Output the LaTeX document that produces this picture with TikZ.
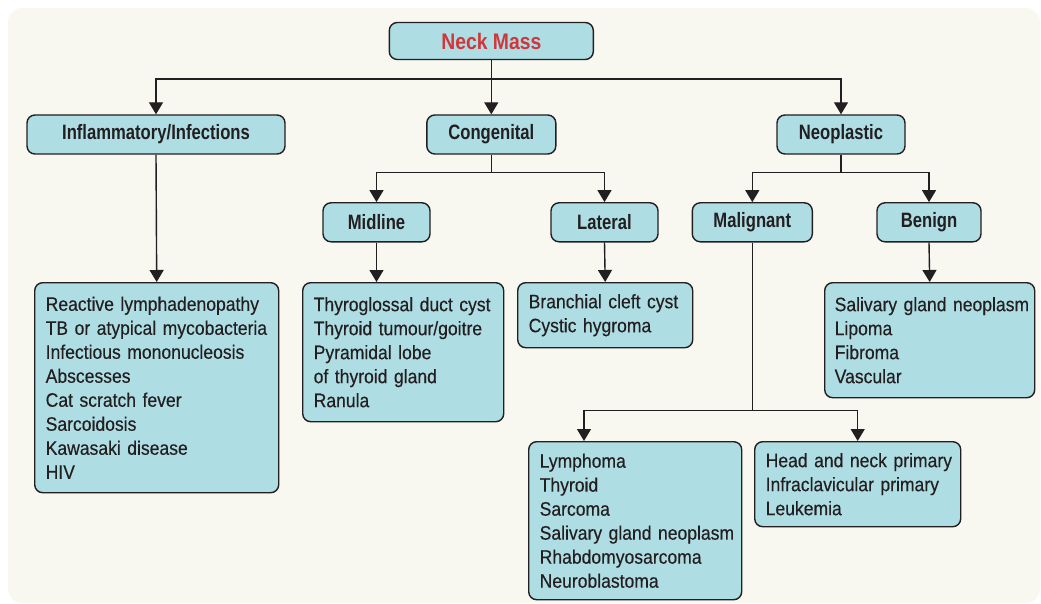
\documentclass[tikz,border=0pt]{standalone}
\usepackage{fontspec}
\setmainfont{Liberation Sans}[FakeStretch=0.90, FakeBold=0.3, BoldFeatures={FakeStretch=0.80, FakeBold=0}]
\newfontfamily\titlefont{Liberation Sans}[BoldFeatures={FakeStretch=0.86}]
\usetikzlibrary{arrows.meta}
\definecolor{bgc}{RGB}{248,247,240}
\definecolor{boxfill}{RGB}{174,221,228}
\definecolor{boxline}{RGB}{35,31,32}
\definecolor{titlered}{RGB}{208,55,58}
\newcommand\itm[1]{\mbox{#1}}
\tikzset{
  base/.style={draw=boxline, fill=boxfill, line width=1.4pt, rounded corners=8pt, inner sep=0pt},
  headbox/.style={base, font=\fontsize{20.8}{24}\selectfont\bfseries, text=boxline},
  listbox/.style={base, anchor=north west, align=left, inner xsep=11pt,
    font=\fontsize{19.5}{24}\selectfont, text=boxline},
  conn/.style={draw=boxline, line width=1.4pt},
  arr/.style={conn, -{Triangle[width=14pt,length=12pt]}}
}
\begin{document}
\begin{tikzpicture}[x=1pt, y=-1pt]
\useasboundingbox (0,0) rectangle (1041,604);
\fill[bgc, rounded corners=14pt] (8,8) rectangle (1040,603);

% level 0
\node[headbox, minimum width=204pt, minimum height=37pt, text=titlered, font=\fontsize{22.5}{24}\titlefont\bfseries] (neck) at (491.3,41) {Neck Mass};
% level 1
\node[headbox, minimum width=258pt, minimum height=39pt] (inf) at (156,134.5) {Inflammatory/Infections};
\node[headbox, minimum width=129pt, minimum height=39pt] (cong) at (491.3,134.5) {Congenital};
\node[headbox, minimum width=128pt, minimum height=39pt] (neo) at (841,134.5) {Neoplastic};
% level 2
\node[headbox, minimum width=107pt, minimum height=39pt] (mid) at (376.5,222.3) {Midline};
\node[headbox, minimum width=107pt, minimum height=39pt] (lat) at (604.5,222.3) {Lateral};
\node[headbox, minimum width=120pt, minimum height=39pt] (mal) at (752.3,222.3) {Malignant};
\node[headbox, minimum width=104pt, minimum height=39pt] (ben) at (929,222.3) {Benign};
% lists
\node[listbox, text width=222pt, minimum height=210pt] (inflist) at (34,282) {\itm{Reactive lymphadenopathy}\\\itm{TB or atypical mycobacteria}\\\itm{Infectious mononucleosis}\\Abscesses\\Cat scratch fever\\Sarcoidosis\\Kawasaki disease\\HIV};
\node[listbox, text width=179pt, minimum height=139pt] (midlist) at (302,282) {\itm{Thyroglossal duct cyst}\\\itm{Thyroid tumour/goitre}\\Pyramidal lobe\\of thyroid gland\\Ranula};
\node[listbox, text width=153pt, minimum height=65pt] (latlist) at (517,282) {\itm{Branchial cleft cyst}\\\itm{Cystic hygroma}};
\node[listbox, inner xsep=10pt, text width=190pt, minimum height=115pt] (benlist) at (824,282) {\itm{Salivary gland neoplasm}\\Lipoma\\Fibroma\\Vascular};
\node[listbox, text width=191pt, minimum height=158pt] (malA) at (528,441) {Lymphoma\\Thyroid\\Sarcoma\\\itm{Salivary gland neoplasm}\\\itm{Rhabdomyosarcoma}\\Neuroblastoma};
\node[listbox, text width=184pt, minimum height=85pt] (malB) at (754,441) {\itm{Head and neck primary}\\\itm{Infraclavicular primary}\\Leukemia};

% junctions
\coordinate (j1) at (491.3,79);
\coordinate (j2) at (491.3,172.5);
\coordinate (j3) at (841,172.5);
\coordinate (j4) at (752.3,410.5);

\draw[arr] (neck.south) -- (cong.north);
\draw[arr] (j1) -| (inf.north);
\draw[arr] (j1) -| (neo.north);
\draw[arr] (inf.south) -- (inflist.north);

\draw[conn] (cong.south) -- (j2);
\draw[arr] (j2) -| (mid.north);
\draw[arr] (j2) -| (lat.north);
\draw[arr] (mid.south) -- (mid.south |- midlist.north);
\draw[arr] (lat.south) -- (latlist.north);

\draw[conn] (neo.south) -- (j3);
\draw[arr] (j3) -| (mal.north);
\draw[arr] (j3) -| (ben.north);
\draw[arr] (ben.south) -- (benlist.north);

\draw[conn] (mal.south) -- (j4);
\draw[arr] (j4) -| ([xshift=56pt]malA.north west);
\draw[arr] (j4) -| (malB.north);
\end{tikzpicture}
\end{document}
